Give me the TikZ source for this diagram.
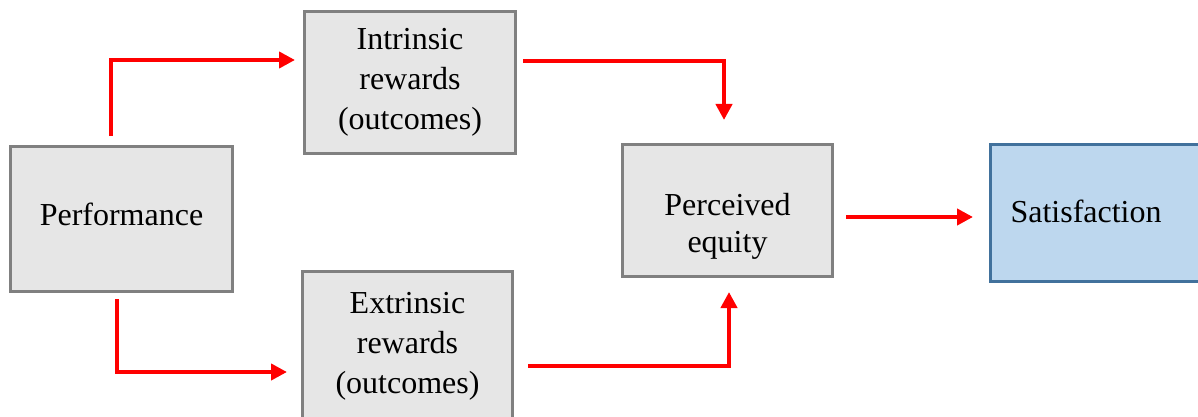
\documentclass[tikz,border=0pt]{standalone}
\usepackage{fontspec}
\setmainfont{Liberation Serif}
\usetikzlibrary{arrows.meta}
\definecolor{boxgray}{HTML}{E6E6E6}
\definecolor{boxline}{HTML}{808080}
\definecolor{satfill}{HTML}{BDD7EE}
\definecolor{satline}{HTML}{41719C}
\definecolor{arrred}{HTML}{FF0000}
\tikzset{
  graybox/.style={draw=boxline, fill=boxgray, line width=3pt, rectangle,
    align=center, inner sep=0pt, font=\fontsize{32}{40}\selectfont},
  bluebox/.style={draw=satline, fill=satfill, line width=3pt, rectangle,
    inner sep=0pt, font=\fontsize{32}{40}\selectfont},
  redarrow/.style={draw=arrred, line width=4pt,
    -{Triangle[length=16pt,width=16pt]}}
}
\begin{document}
\begin{tikzpicture}[x=1pt,y=-1pt]
\useasboundingbox (0,0) rectangle (1198,417);
\clip (0,0) rectangle (1198,417);
\node[graybox, minimum width=222pt, minimum height=145pt, text depth=9pt] (perf) at (121.5,219) {Performance};
\node[graybox, minimum width=211pt, minimum height=142pt] (intr) at (410,82.5) {Intrinsic\\rewards\\(outcomes)};
\node[graybox, minimum width=210pt, minimum height=150pt] (extr) at (407.5,346) {Extrinsic\\rewards\\(outcomes)};
\node[graybox, minimum width=210pt, minimum height=132pt] (perc) at (727.5,210.5) {\rule{0pt}{54pt}Perceived\\[-3pt]equity};
\node[bluebox, anchor=west, minimum height=137pt, text width=200pt, align=left, inner xsep=20pt, text depth=4pt] (sat) at (989,213) {Satisfaction};

\draw[redarrow] ([xshift=-10.5pt,yshift=9pt]perf.north) |- ([xshift=-8pt,yshift=22.5pt]intr.west);
\draw[redarrow] ([xshift=6pt,yshift=21.5pt]intr.east) -| ([xshift=-3.5pt,yshift=23pt]perc.north);
\draw[redarrow] ([xshift=-4.5pt,yshift=-6pt]perf.south) |- ([xshift=-14pt,yshift=-26pt]extr.west);
\draw[redarrow] ([xshift=14pt,yshift=-20pt]extr.east) -| ([xshift=1.5pt,yshift=-14pt]perc.south);
\draw[redarrow] ([xshift=12pt,yshift=-6.5pt]perc.east) -- ([xshift=-16pt,yshift=-4pt]sat.west);
\end{tikzpicture}
\end{document}
